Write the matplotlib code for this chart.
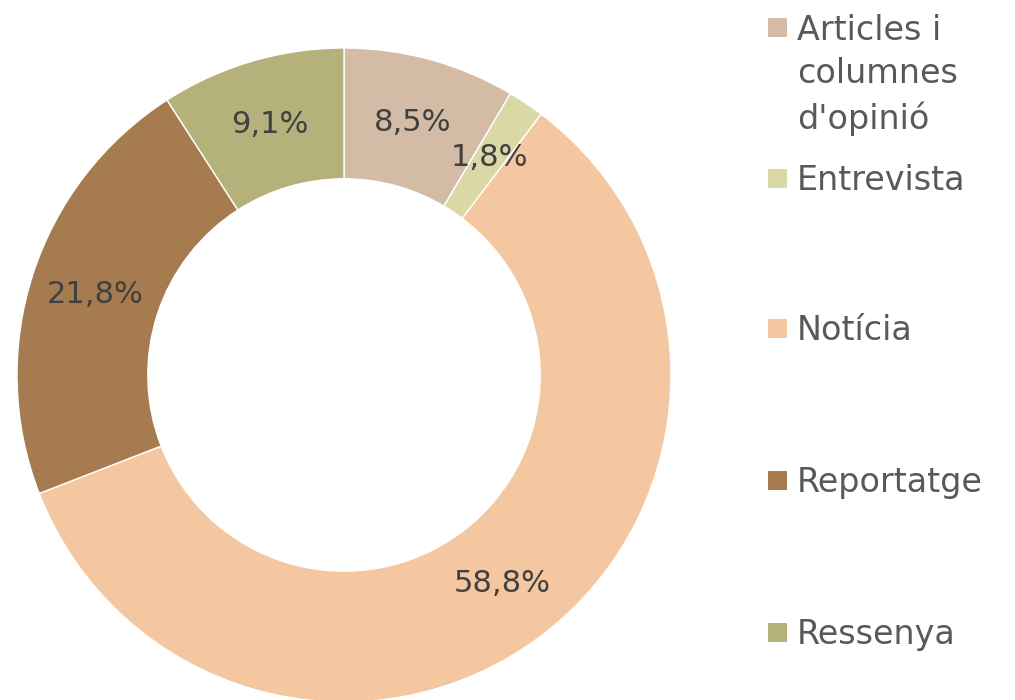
import matplotlib
matplotlib.use("Agg")
import matplotlib.pyplot as plt
from matplotlib.patches import Rectangle

# Dades
categories = ["Articles i\ncolumnes\nd'opinió", "Entrevista", "Notícia", "Reportatge", "Ressenya"]
values = [8.5, 1.8, 58.8, 21.8, 9.1]
colors = ["#D3BBA6", "#D9D8A6", "#F4C7A0", "#A67B50", "#B4B27A"]

plt.rcParams["font.family"] = ["DejaVu Sans"]
TXT = "#404040"
LEG = "#595959"

fig = plt.figure(figsize=(10.15, 7), dpi=100)
fig.patch.set_facecolor("white")

# centre del donut ~ (344, 375) px, radi ~327 px
R = 327
cx, cy = 344, 375
ax = fig.add_axes([(cx - R) / 1015, (700 - cy - R) / 700, 2 * R / 1015, 2 * R / 700])

ax.pie(values, colors=colors, startangle=90, counterclock=False, radius=1,
       wedgeprops=dict(width=0.4, edgecolor="white", linewidth=1),
       autopct=lambda p: f"{p:.1f}%".replace(".", ","), pctdistance=0.8,
       textprops=dict(color=TXT, fontsize=22))
ax.set_xlim(-1, 1); ax.set_ylim(-1, 1)
ax.set_aspect("equal")
ax.axis("off")

# Llegenda manual (una entrada per categoria)
leg_y = [66, 177, 327, 479, 631]
box_y = [27, 178, 328, 480, 632]
for lab, col, y, by in zip(categories, colors, leg_y, box_y):
    fig.patches.append(Rectangle((768 / 1015, (700 - by - 10) / 700), 19 / 1015, 19 / 700,
                                 transform=fig.transFigure, facecolor=col, edgecolor="none"))
    fig.text(797 / 1015, (700 - y) / 700, lab, ha="left", va="center_baseline",
             fontsize=24, color=LEG, linespacing=1.4)

fig.savefig("out.png", dpi=100, facecolor="white")
